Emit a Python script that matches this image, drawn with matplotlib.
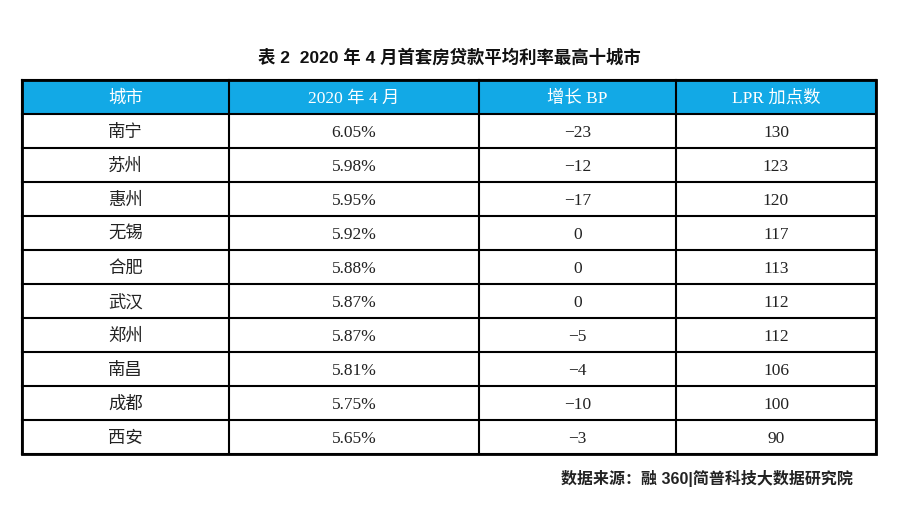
import matplotlib
matplotlib.use("Agg")
import matplotlib.pyplot as plt
from matplotlib.patches import Rectangle

plt.rcParams['font.family'] = ['Noto Sans CJK SC', 'DejaVu Sans']

title = "表 2  2020 年 4 月首套房贷款平均利率最高十城市"
headers = ["城市", "2020 年 4 月", "增长 BP", "LPR 加点数"]
cities = ["南宁", "苏州", "惠州", "无锡", "合肥", "武汉", "郑州", "南昌", "成都", "西安"]
rates = ["6.05%", "5.98%", "5.95%", "5.92%", "5.88%", "5.87%", "5.87%", "5.81%", "5.75%", "5.65%"]
growth_bp = [-23, -12, -17, 0, 0, 0, -5, -4, -10, -3]
lpr_add = [130, 123, 120, 117, 113, 112, 112, 106, 100, 90]
source = "数据来源：融 360|简普科技大数据研究院"

W, H = 898, 506
fig = plt.figure(figsize=(W / 100, H / 100), dpi=100)
ax = fig.add_axes([0, 0, 1, 1])
ax.set_xlim(0, W)
ax.set_ylim(H, 0)
ax.axis('off')

col_edges = [22, 229, 479, 676, 876]
top = 81
head_h = 34
row_h = 34
n = len(cities)
bottom = top + head_h + n * row_h

header_color = "#12A9E6"
ax.add_patch(Rectangle((col_edges[0], top), col_edges[-1] - col_edges[0], head_h,
                       facecolor=header_color, edgecolor='none', zorder=1))

for x in col_edges:
    ax.plot([x, x], [top, bottom], color='black', lw=1.5, zorder=3, solid_capstyle='projecting')
ys = [top, top + head_h] + [top + head_h + (i + 1) * row_h for i in range(n)]
for y in ys:
    ax.plot([col_edges[0], col_edges[-1]], [y, y], color='black', lw=1.5, zorder=3, solid_capstyle='projecting')
ax.add_patch(Rectangle((col_edges[0], top), col_edges[-1] - col_edges[0], bottom - top,
                       fill=False, edgecolor='black', lw=2.0, zorder=4))

cell_font = ['Liberation Serif', 'Noto Sans CJK SC']
centers = [(col_edges[i] + col_edges[i + 1]) / 2 for i in range(4)]
for j, h in enumerate(headers):
    ax.text(centers[j], top + head_h / 2 + 1, h, ha='center', va='center',
            color='white', fontsize=12.5, family=cell_font, zorder=5)

def fmt(v):
    return str(v).replace('-', '\u2212')

for i in range(n):
    yc = top + head_h + i * row_h + row_h / 2 + 1
    vals = [cities[i], rates[i], fmt(growth_bp[i]), str(lpr_add[i])]
    for j, v in enumerate(vals):
        ax.text(centers[j], yc, v, ha='center', va='center', color='#222222',
                fontsize=12.5, family=cell_font, zorder=5)

ax.text(449, 57, title, ha='center', va='center', fontsize=12.5, fontweight='bold',
        color='#111111', family=['Liberation Sans', 'Noto Sans CJK SC'])
ax.text(853, 479, source, ha='right', va='center', fontsize=11.5, fontweight='bold',
        color='#222222', family=['Liberation Sans', 'Noto Sans CJK SC'])

fig.savefig("out.png", dpi=100, facecolor='white')
